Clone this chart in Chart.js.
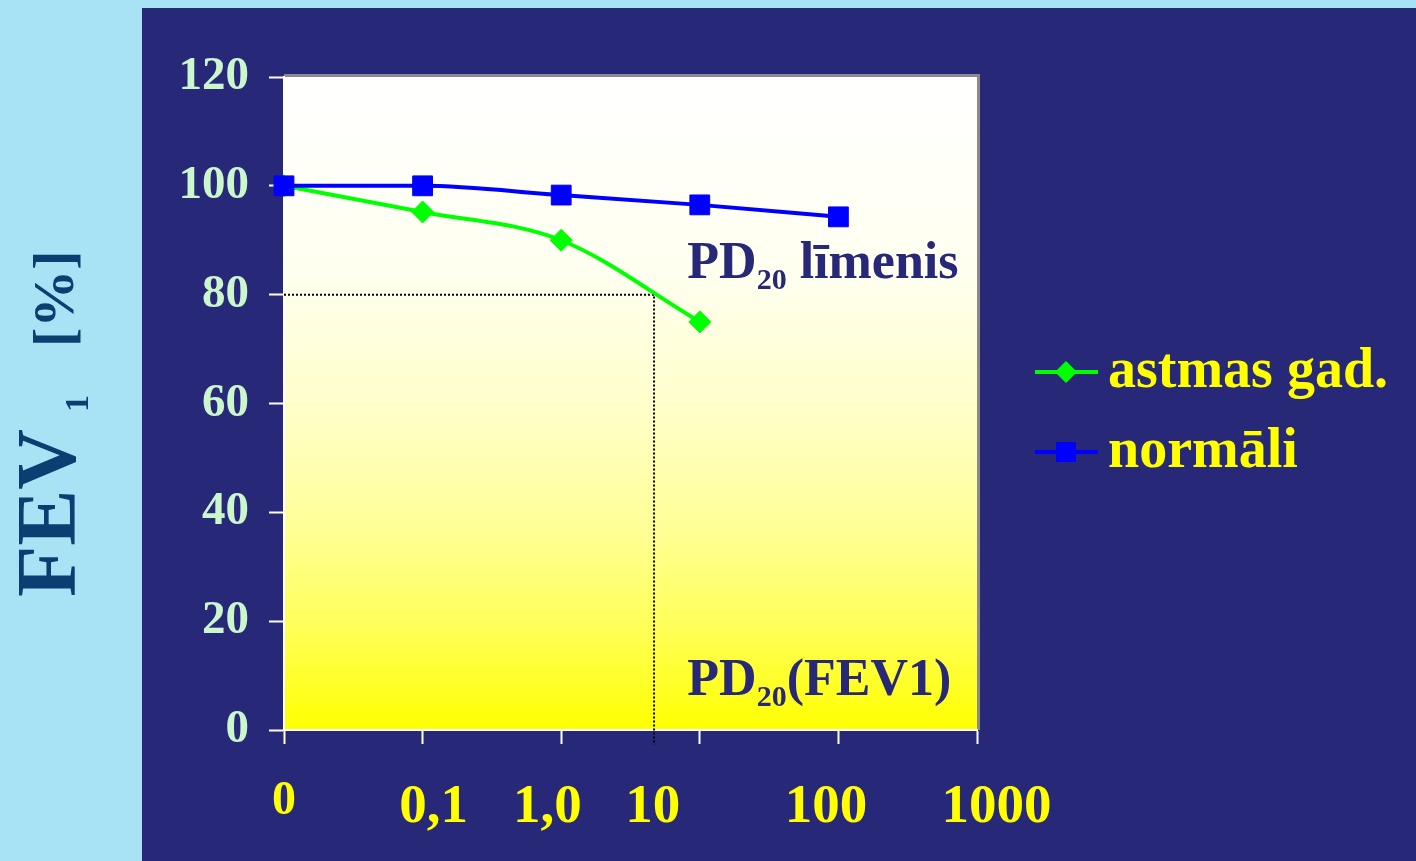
<!DOCTYPE html>
<html>
<head>
<meta charset="utf-8">
<script src="https://cdn.jsdelivr.net/npm/chart.js@4/dist/chart.umd.min.js"></script>
<style>
  html, body { margin: 0; padding: 0; background: #a8e2f5; overflow: hidden; }
  #fevChart { display: block; }
</style>
</head>
<body>
<canvas id="fevChart" width="1416" height="861"></canvas>
<script>
// dose axis labels and where they sit along the dose axis
const doseLabels = ['0', '0,1', '1,0', '10', '100', '1000'];
const doseLabelAt = [0, 1.08, 1.9, 2.66, 3.91, 5.14];

// FEV1 values [%] per dose step
const asthmaFev = [100, 95.2, 90, 75];
const normalFev = [100, 100, 98.3, 96.5, 94.3];

const seriesNames = ['astmas gad.', 'normāli'];

// PD20 guide: 80 % level and the dose where the asthma curve crosses it
const pd20Level = 80;
const pd20Dose = 2.67;

const yTicks = [0, 20, 40, 60, 80, 100, 120];

const navy = '#282878';
const serif = "'Liberation Serif', 'Times New Roman', serif";

const toPoints = arr => arr.map((v, i) => ({ x: i, y: v }));

const decoPlugin = {
    id: 'deco',
    beforeDraw(chart) {
        const { ctx, chartArea: a } = chart;
        ctx.save();
        ctx.fillStyle = '#a8e2f5';
        ctx.fillRect(0, 0, chart.width, chart.height);
        ctx.fillStyle = navy;
        ctx.fillRect(142, 8, chart.width - 142, chart.height - 8);

        const g = ctx.createLinearGradient(0, a.top, 0, a.bottom);
        g.addColorStop(0, '#ffffff');
        g.addColorStop(0.3, '#fffff0');
        g.addColorStop(0.5, '#ffffcc');
        g.addColorStop(0.7, '#ffff94');
        g.addColorStop(0.85, '#ffff55');
        g.addColorStop(1, '#ffff00');
        ctx.fillStyle = g;
        ctx.fillRect(a.left, a.top, a.right - a.left, a.bottom - a.top);

        // grey shadow edge on top and right
        ctx.fillStyle = '#8a8a8a';
        ctx.fillRect(a.left, a.top - 3, a.right - a.left + 3, 3);
        ctx.fillRect(a.right, a.top - 3, 3, a.bottom - a.top + 3);
        ctx.restore();
    },
    afterDraw(chart) {
        const { ctx } = chart;
        const xs = chart.scales.x;
        const ys = chart.scales.y;
        ctx.save();

        // dose labels
        ctx.fillStyle = '#ffff00';
        ctx.textAlign = 'center';
        ctx.textBaseline = 'alphabetic';
        doseLabels.forEach((lab, i) => {
            const px = xs.getPixelForValue(doseLabelAt[i]);
            if (i === 0) {
                ctx.font = 'bold 48px ' + serif;
                ctx.fillText(lab, px, 814);
            } else {
                ctx.font = 'bold 55px ' + serif;
                ctx.fillText(lab, px, 822);
            }
        });

        // PD20 annotations
        function pdText(xv, yv, rest) {
            let px = xs.getPixelForValue(xv);
            const py = ys.getPixelForValue(yv);
            ctx.fillStyle = navy;
            ctx.textAlign = 'left';
            ctx.font = 'bold 52px ' + serif;
            ctx.fillText('PD', px, py);
            px += ctx.measureText('PD').width;
            ctx.font = 'bold 30px ' + serif;
            ctx.fillText('20', px, py + 11);
            px += ctx.measureText('20').width;
            ctx.font = 'bold 52px ' + serif;
            ctx.fillText(rest, px, py);
        }
        pdText(2.91, 83.1, ' līmenis');
        pdText(2.91, 6.4, '(FEV1)');

        // legend
        chart.data.datasets.slice(0, 2).forEach((ds, i) => {
            const cy = 372 + i * 80;
            ctx.strokeStyle = ds.borderColor;
            ctx.lineWidth = 4;
            ctx.beginPath();
            ctx.moveTo(1035, cy);
            ctx.lineTo(1098, cy);
            ctx.stroke();
            ctx.fillStyle = ds.borderColor;
            ctx.beginPath();
            if (ds.pointStyle === 'rectRot') {
                ctx.moveTo(1066, cy - 11);
                ctx.lineTo(1077, cy);
                ctx.lineTo(1066, cy + 11);
                ctx.lineTo(1055, cy);
                ctx.closePath();
            } else {
                ctx.rect(1056, cy - 10, 20, 20);
            }
            ctx.fill();
            ctx.fillStyle = '#ffff00';
            ctx.font = 'bold 56px ' + serif;
            ctx.textAlign = 'left';
            ctx.fillText(ds.label, 1108, cy + 15);
        });

        // y axis title: FEV 1 [%]
        ctx.translate(75, 597);
        ctx.rotate(-Math.PI / 2);
        ctx.fillStyle = '#0b3f72';
        ctx.textAlign = 'left';
        ctx.font = 'bold 84px ' + serif;
        ctx.fillText('FEV', 0, 0);
        ctx.font = 'bold 34px ' + serif;
        ctx.fillText('1', 185, 13);
        ctx.font = 'bold 58px ' + serif;
        ctx.fillText('[%]', 250, -2);

        ctx.restore();
    }
};

const ctx = document.getElementById('fevChart').getContext('2d');

new Chart(ctx, {
    type: 'line',
    data: {
        datasets: [
            {
                label: seriesNames[0],
                data: toPoints(asthmaFev),
                borderColor: '#00ff00',
                backgroundColor: '#00ff00',
                borderWidth: 4,
                cubicInterpolationMode: 'monotone',
                pointStyle: 'rectRot',
                pointRadius: 11,
                pointBorderWidth: 1,
                clip: false,
                order: 2
            },
            {
                label: seriesNames[1],
                data: toPoints(normalFev),
                borderColor: '#0000ff',
                backgroundColor: '#0000ff',
                borderWidth: 4,
                cubicInterpolationMode: 'monotone',
                pointStyle: 'rect',
                pointRadius: 14,
                pointBorderWidth: 1,
                clip: false,
                order: 1
            },
            {
                label: 'PD20',
                data: [
                    { x: 0, y: pd20Level },
                    { x: pd20Dose, y: pd20Level },
                    { x: pd20Dose, y: -2.7 }
                ],
                borderColor: '#000000',
                borderWidth: 2,
                borderDash: [2, 2],
                pointRadius: 0,
                tension: 0,
                clip: false,
                order: 3
            }
        ]
    },
    options: {
        responsive: false,
        animation: false,
        layout: {
            padding: { left: 142, top: 77, right: 439, bottom: 0 }
        },
        plugins: {
            legend: { display: false },
            tooltip: { enabled: false }
        },
        scales: {
            x: {
                type: 'linear',
                min: 0,
                max: 5,
                ticks: { display: false, stepSize: 1 },
                grid: {
                    drawOnChartArea: false,
                    drawTicks: true,
                    tickLength: 14,
                    tickColor: '#ffffff',
                    tickWidth: 2
                },
                border: { color: '#ffffff', width: 2 },
                afterFit(scale) { scale.height = 131; }
            },
            y: {
                min: 0,
                max: 120,
                afterBuildTicks(scale) {
                    scale.ticks = yTicks.map(v => ({ value: v }));
                },
                ticks: {
                    color: '#ccf7cc',
                    padding: 20,
                    font: { family: serif, size: 47, weight: 'bold' }
                },
                grid: {
                    drawOnChartArea: false,
                    drawTicks: true,
                    tickLength: 15,
                    tickColor: '#ffffff',
                    tickWidth: 2
                },
                border: { color: '#ffffff', width: 2 },
                afterFit(scale) { scale.width = 142; }
            }
        }
    },
    plugins: [decoPlugin]
});
</script>
</body>
</html>
